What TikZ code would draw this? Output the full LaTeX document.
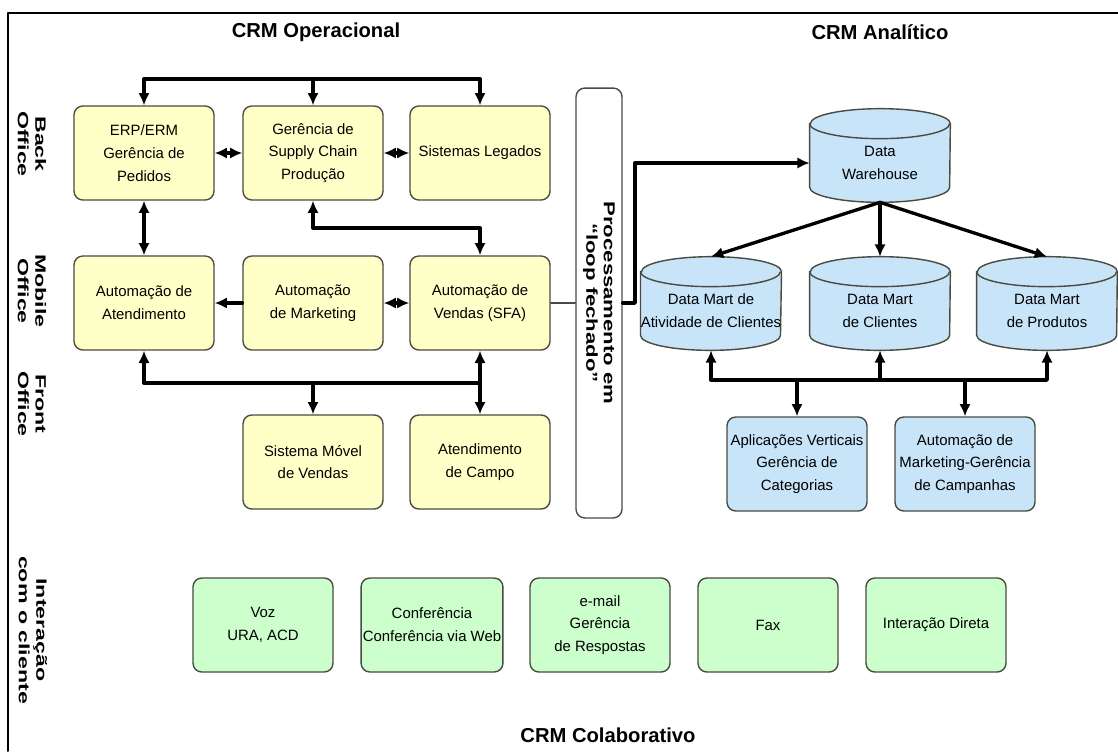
\documentclass[tikz,border=0pt]{standalone}
\usepackage{fontspec}
\setmainfont{Liberation Sans}
\usetikzlibrary{arrows.meta,calc,backgrounds}
\definecolor{opyellow}{HTML}{FFFFC8}
\definecolor{anblue}{HTML}{C8E4F8}
\definecolor{cogreen}{HTML}{CCFFCC}
\definecolor{boxline}{HTML}{4A4A40}

\begin{document}
\begin{tikzpicture}[x=0.02cm,y=-0.02cm,line cap=round,line join=round,
  >={Latex[length=7pt,width=6.5pt]},
  crmbox/.style={draw=boxline,line width=0.8pt,rounded corners=5pt,minimum width=2.8cm,
    minimum height=1.88cm,align=center,inner sep=1pt,font=\fontsize{8.5}{13}\selectfont},
  opbox/.style={crmbox,fill=opyellow},
  anbox/.style={crmbox,fill=anblue},
  cobox/.style={crmbox,fill=cogreen},
  dbnode/.style={minimum width=2.8cm,minimum height=1.56cm,align=center,inner sep=0pt,
    font=\fontsize{8.5}{13}\selectfont},
  dbshape/.style={draw=boxline,line width=0.8pt,fill=anblue},
  bus/.style={line width=1.9pt},
  thinline/.style={line width=0.7pt,draw=boxline},
  sidelabel/.style={rotate=-90,xscale=1.55,align=center,font=\fontsize{8.5}{10}\selectfont\bfseries},
  looplabel/.style={rotate=-90,xscale=1.4,align=center,font=\fontsize{9}{10}\selectfont\bfseries},
  crmtitle/.style={font=\fontsize{11.5}{13}\selectfont\bfseries}]
  \useasboundingbox (0,0) rectangle (1118,751);
  \draw[line width=1.1pt] (1118,13) -- (8,13) -- (8,751);

  % titulos
  \node[crmtitle] (titop) at (316,32) {CRM Operacional};
  \node[crmtitle] (titan) at (880,32) {CRM Analítico};
  \node[crmtitle] (titcol) at (608,735) {CRM Colaborativo};

  % faixas laterais
  \node[sidelabel] (lbback) at (32,144) {Back\\Office};
  \node[sidelabel] (lbmobile) at (32,291) {Mobile\\Office};
  \node[sidelabel] (lbfront) at (32,404) {Front\\Office};
  \node[sidelabel] (lbinter) at (33,630) {Interação\\com o cliente};

  % CRM operacional
  \node[opbox] (erp) at (144,153) {ERP/ERM\\Gerência de\\Pedidos};
  \node[opbox] (scm) at (313,153) {Gerência de\\Supply Chain\\Produção};
  \node[opbox] (legado) at (480,153) {Sistemas Legados};
  \node[opbox] (atend) at (144,303) {Automação de\\Atendimento};
  \node[opbox] (automkt) at (313,303) {Automação\\de Marketing};
  \node[opbox] (sfa) at (480,303) {Automação de\\Vendas (SFA)};
  \node[opbox] (movel) at (313,462) {Sistema Móvel\\de Vendas};
  \node[opbox] (campo) at (480,462) {Atendimento\\de Campo};

  \node[draw=boxline,line width=0.8pt,fill=white,rounded corners=5pt,minimum width=0.92cm,
    minimum height=8.6cm] (loopbar) at (599,303) {};
  \node[looplabel] (looptext) at (loopbar.center) {Processamento em\\“loop fechado”};

  % CRM analitico
  \node[dbnode] (dw) at (880,163) {Data\\Warehouse};
  \node[dbnode] (dmativ) at (711,311) {Data Mart de\\Atividade de Clientes};
  \node[dbnode] (dmcli) at (880,311) {Data Mart\\de Clientes};
  \node[dbnode] (dmprod) at (1047,311) {Data Mart\\de Produtos};
  \node[anbox] (aplic) at (797,464) {Aplicações Verticais\\Gerência de\\Categorias};
  \node[anbox] (campanha) at (965,464) {Automação de\\Marketing-Gerência\\de Campanhas};

  \begin{scope}[on background layer]
    \foreach \db in {dw,dmativ,dmcli,dmprod}{
      \path[dbshape] (\db.north west) -- ($(\db.south west)+(0,-15)$)
        arc[start angle=180,end angle=360,x radius=1.4cm,y radius=0.3cm]
        -- (\db.north east) arc[start angle=0,end angle=180,x radius=1.4cm,y radius=0.3cm] -- cycle;
      \draw[dbshape,fill=none] (\db.north west)
        arc[start angle=180,end angle=360,x radius=1.4cm,y radius=0.3cm];
    }
  \end{scope}

  % CRM colaborativo
  \node[cobox] (voz) at (263,625) {Voz\\URA, ACD};
  \node[cobox] (confer) at (432,625) {Conferência\\Conferência via Web};
  \node[cobox] (email) at (600,625) {e-mail\\Gerência\\de Respostas};
  \node[cobox] (fax) at (768,625) {Fax};
  \node[cobox] (direta) at (936,625) {Interação Direta};

  % ligacoes operacional
  \coordinate (topbus) at (0,79);
  \coordinate (midbus) at (0,228);
  \coordinate (lowbus) at (0,383);
  \draw[bus,<->] (erp.north) -- (erp.north |- topbus) -- (legado.north |- topbus) -- (legado.north);
  \draw[bus,->] (scm.north |- topbus) -- (scm.north);
  \draw[bus,<->] (erp.east) -- (scm.west);
  \draw[bus,<->] (scm.east) -- (legado.west);
  \draw[bus,<->] (erp.south) -- (atend.north);
  \draw[bus,<->] (scm.south) -- (scm.south |- midbus) -- (sfa.north |- midbus) -- (sfa.north);
  \draw[bus,->] (automkt.west) -- (atend.east);
  \draw[bus,<->] (automkt.east) -- (sfa.west);
  \draw[bus,<->] (atend.south) -- (atend.south |- lowbus) -- (campo.north |- lowbus) -- (campo.north);
  \draw[bus,->] (sfa.south |- lowbus) -- (sfa.south);
  \draw[bus,->] (movel.north |- lowbus) -- (movel.north);
  \draw[thinline] (sfa.east) -- (sfa.east -| loopbar.west);

  % ligacoes analitico
  \coordinate (dwbend) at (635,0);
  \coordinate (anbus) at (0,380);
  \draw[bus,->] (loopbar.east) -| (dwbend |- dw.west) -- (dw.west);
  \draw[bus,->] (dw.south) -- ($(dmativ.north)+(0,-15)$);
  \draw[bus,->] (dw.south) -- ($(dmcli.north)+(0,-15)$);
  \draw[bus,->] (dw.south) -- ($(dmprod.north)+(0,-15)$);
  \draw[bus,<->] (dmativ.south) -- (dmativ.south |- anbus) -- (dmprod.south |- anbus) -- (dmprod.south);
  \draw[bus,->] (dmcli.south |- anbus) -- (dmcli.south);
  \draw[bus,->] (aplic.north |- anbus) -- (aplic.north);
  \draw[bus,->] (campanha.north |- anbus) -- (campanha.north);
\end{tikzpicture}
\end{document}
